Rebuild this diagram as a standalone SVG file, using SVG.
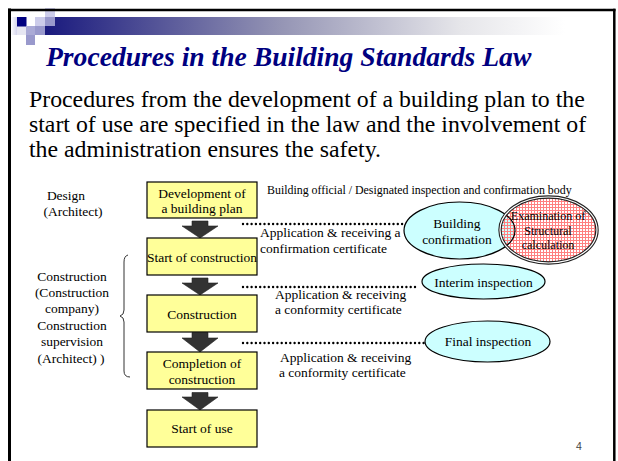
<svg xmlns="http://www.w3.org/2000/svg" width="618" height="461" viewBox="0 0 618 461">
<defs>
<linearGradient id="bar" x1="0" y1="0" x2="1" y2="0">
<stop offset="0" stop-color="#1a1a7e"/>
<stop offset="0.45" stop-color="#9494b4"/>
<stop offset="0.8" stop-color="#e6e6ea"/>
<stop offset="1" stop-color="#ffffff"/>
</linearGradient>
<linearGradient id="lg" x1="0" y1="0" x2="1" y2="0">
<stop offset="0" stop-color="#ffffff"/>
<stop offset="1" stop-color="#d4d4ec"/>
</linearGradient>
<pattern id="grid" patternUnits="userSpaceOnUse" width="3" height="3">
<rect x="0" y="0" width="3" height="1" fill="#ff8080"/>
<rect x="0" y="0" width="1" height="3" fill="#ff8080"/>
</pattern>
<style>
.serif{font-family:"Liberation Serif","Times New Roman",serif;fill:#000}
.box{fill:#ffff99;stroke:#000;stroke-width:1.2}
.arr{fill:#333;stroke:#222;stroke-width:0.6}
.bt{font-size:13.5px;text-anchor:middle}
.lt{font-size:13.5px;text-anchor:middle}
.lab{font-size:13.5px}
.dot{stroke:#000;stroke-width:2.4;stroke-linecap:round;stroke-dasharray:0 4.3;fill:none}
.ell{fill:#ccffff;stroke:#000;stroke-width:1.2}
</style>
</defs>
<rect width="618" height="461" fill="#fff"/>
<!-- header decoration -->
<rect x="45" y="17" width="520" height="18" fill="url(#bar)"/>
<rect x="11" y="17" width="6" height="18" fill="url(#lg)"/>
<rect x="17" y="26" width="9" height="9" fill="#e6e6f2"/>
<rect x="17" y="17" width="9.5" height="9.5" fill="#000080"/>
<rect x="35" y="17" width="10" height="9" fill="#ccccea"/>
<rect x="45" y="8" width="10" height="9" fill="#ccccea"/>
<rect x="45" y="17" width="10" height="9" fill="#9999cc"/>
<rect x="26" y="26" width="9" height="9" fill="#aaaad6"/>
<rect x="35" y="26" width="10" height="9" fill="#9999cc"/>
<rect x="26" y="35" width="9" height="10" fill="#9999cc"/>
<!-- frame -->
<line x1="9.5" y1="8.5" x2="9.5" y2="461" stroke="#000" stroke-width="3"/>
<line x1="8" y1="10" x2="615.5" y2="10" stroke="#000" stroke-width="2.5"/>
<line x1="614.3" y1="8.8" x2="614.3" y2="461" stroke="#000" stroke-width="2.5"/>
<!-- title -->
<text x="46" y="66" font-family="Liberation Serif,Times New Roman,serif" font-size="27.6" font-weight="bold" font-style="italic" fill="#000080">Procedures in the Building Standards Law</text>
<g class="serif" font-size="23.8">
<text x="29" y="107">Procedures from the development of a building plan to the</text>
<text x="29" y="132">start of use are specified in the law and the involvement of</text>
<text x="29" y="157">the administration ensures the safety.</text>
</g>
<!-- left labels -->
<g id="design-label" class="serif lt">
<text x="66" y="200">Design</text>
<text x="73" y="216">(Architect)</text>
</g>
<g id="construction-label" class="serif lt">
<text x="72" y="281">Construction</text>
<text x="72" y="297">(Construction</text>
<text x="72" y="313">company)</text>
<text x="72" y="330">Construction</text>
<text x="72" y="346">supervision</text>
<text x="71" y="363">(Architect) )</text>
</g>
<path id="brace" d="M128,255 Q124,256 124,262 L124,310 Q124,315 120,316 Q124,317 124,322 L124,371 Q124,377 130,377" fill="none" stroke="#333" stroke-width="1"/>
<!-- connectors -->
<g id="connectors">
<path class="arr" d="M192,221 H208 V226 H218 L200,238 L182,226 H192 Z"/>
<path class="arr" d="M192,278 H208 V283 H218 L200,295 L182,283 H192 Z"/>
<path class="arr" d="M192,332.5 H208 V338 H218 L200,352 L182,338 H192 Z"/>
<path class="arr" d="M192,392.5 H208 V397 H218 L200,410 L182,397 H192 Z"/>
<line class="dot" x1="243" y1="224" x2="407" y2="224"/>
<line class="dot" x1="243" y1="287" x2="416" y2="287"/>
<line class="dot" x1="243" y1="343" x2="425" y2="343"/>
</g>
<!-- boxes -->
<g id="n-plan"><rect class="box" x="147" y="182" width="110" height="36"/>
<text class="serif bt" x="202" y="198">Development of</text><text class="serif bt" x="202" y="213">a building plan</text></g>
<g id="n-start"><rect class="box" x="147" y="238" width="110" height="37"/>
<text class="serif bt" x="202" y="262">Start of construction</text></g>
<g id="n-construction"><rect class="box" x="147" y="295" width="110" height="37"/>
<text class="serif bt" x="202" y="319">Construction</text></g>
<g id="n-completion"><rect class="box" x="147" y="352" width="110" height="37"/>
<text class="serif bt" x="202" y="368">Completion of</text><text class="serif bt" x="202" y="384">construction</text></g>
<g id="n-use"><rect class="box" x="147" y="410" width="110" height="37"/>
<text class="serif bt" x="202" y="433">Start of use</text></g>
<!-- right labels -->
<text class="serif" x="267" y="194" font-size="11.9">Building official / Designated inspection and confirmation body</text>
<g id="lab1" class="serif lab"><text x="260" y="237">Application &amp; receiving a</text><text x="260" y="253">confirmation certificate</text></g>
<g id="lab2" class="serif lab"><text x="275" y="299">Application &amp; receiving</text><text x="275" y="314">a conformity certificate</text></g>
<g id="lab3" class="serif lab"><text x="280" y="362">Application &amp; receiving</text><text x="279" y="377">a conformity certificate</text></g>
<!-- ellipses -->
<g id="n-confirmation">
<ellipse cx="459.5" cy="230.5" rx="55.5" ry="28.5" fill="#ccffff"/>
</g>
<g id="n-structural">
<ellipse cx="548.5" cy="230" rx="48.5" ry="33" fill="url(#grid)"/>
</g>
<ellipse cx="459.5" cy="230.5" rx="55.5" ry="28.5" fill="none" stroke="#000" stroke-width="1.2"/>
<ellipse cx="548.5" cy="230" rx="48.5" ry="33" fill="none" stroke="#222" stroke-width="3.4"/>
<ellipse cx="548.5" cy="230" rx="48.5" ry="33" fill="none" stroke="#fff" stroke-width="1.2"/>
<text class="serif bt" x="457" y="228">Building</text>
<text class="serif bt" x="457" y="244">confirmation</text>
<g class="serif" font-size="12" text-anchor="middle" fill="#111">
<text x="548" y="220">Examination of</text>
<text x="548" y="235">Structural</text>
<text x="548" y="249">calculation</text>
</g>
<g id="n-interim"><ellipse class="ell" cx="483.5" cy="281.5" rx="61.5" ry="17.5"/>
<text class="serif bt" x="483.5" y="287">Interim inspection</text></g>
<g id="n-final"><ellipse class="ell" cx="487.5" cy="341.5" rx="62.5" ry="20.5"/>
<text class="serif bt" x="488" y="346">Final inspection</text></g>
<text x="579" y="450" font-family="Liberation Sans,Arial,sans-serif" font-size="10.5" fill="#444" text-anchor="middle">4</text>
</svg>
